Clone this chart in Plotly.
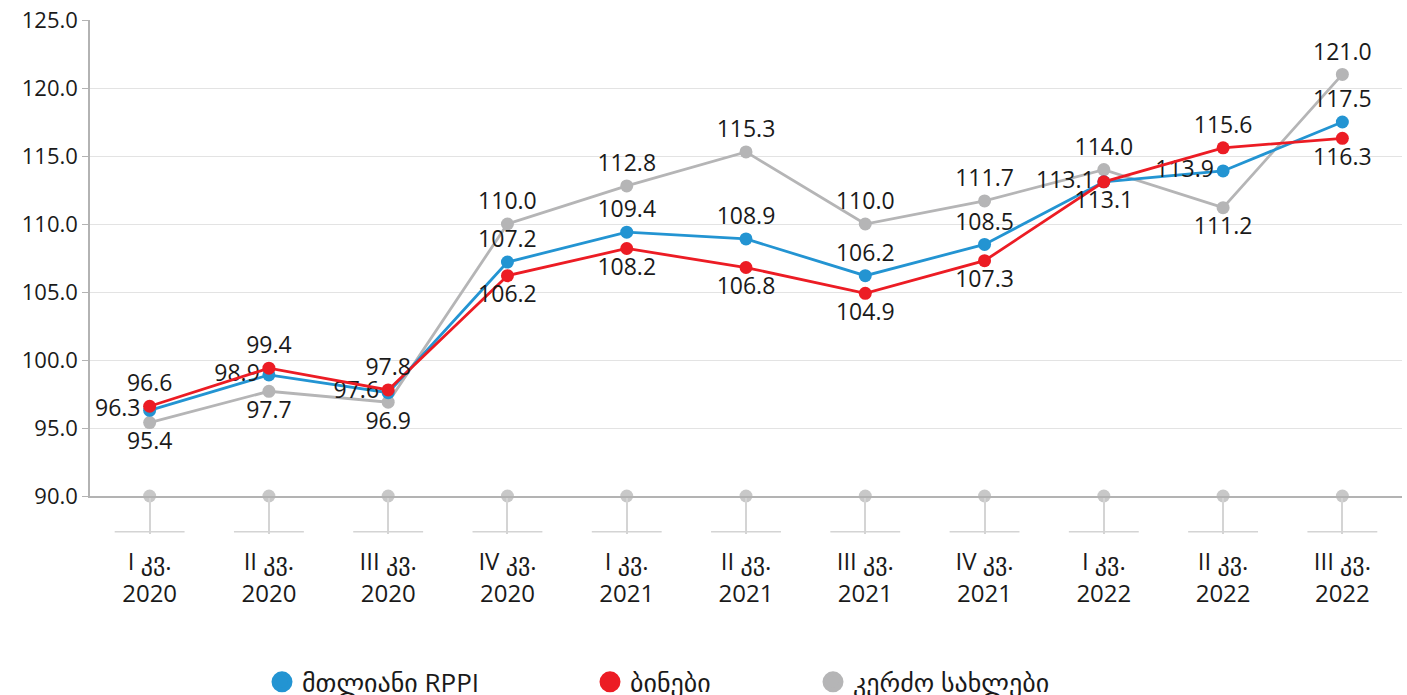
import plotly.graph_objects as go

categories = ["I კვ.<br>2020", "II კვ.<br>2020", "III კვ.<br>2020", "IV კვ.<br>2020",
              "I კვ.<br>2021", "II კვ.<br>2021", "III კვ.<br>2021", "IV კვ.<br>2021",
              "I კვ.<br>2022", "II კვ.<br>2022", "III კვ.<br>2022"]
total_rppi = [96.3, 98.9, 97.6, 107.2, 109.4, 108.9, 106.2, 108.5, 113.1, 113.9, 117.5]
flats = [96.6, 99.4, 97.8, 106.2, 108.2, 106.8, 104.9, 107.3, 113.1, 115.6, 116.3]
houses = [95.4, 97.7, 96.9, 110.0, 112.8, 115.3, 110.0, 111.7, 114.0, 111.2, 121.0]
names = ["მთლიანი RPPI", "ბინები", "კერძო სახლები"]

pos_total = ["middle left", "middle left", "middle left", "top center", "top center", "top center",
             "top center", "top center", "middle left", "middle left", "top center"]
pos_flats = ["top center", "top center", "top center", "bottom center", "bottom center", "bottom center",
             "bottom center", "bottom center", "bottom center", "top center", "bottom center"]
pos_houses = ["bottom center", "bottom center", "bottom center", "top center", "top center", "top center",
              "top center", "top center", "top center", "bottom center", "top center"]

BLUE = "#2394d2"
RED = "#ec1c24"
GRAY = "#b5b5b6"
FONT = "Open Sans, DejaVu Sans, sans-serif"
YMIN, YMAX = 90, 125

# layout designed in target-picture pixels, with a vertical factor for the page
W, H_TARGET = 1407, 695
VS = 710 / 695
H = round(H_TARGET * VS)
TOP, BOTTOM_AXIS = 20 * VS, 486 * VS
PLOT_H = BOTTOM_AXIS - TOP
PLOT_W = 1312
TICKLEN = 35 * VS

fig = go.Figure()

# decorative dots on the x axis
fig.add_trace(go.Scatter(x=categories, y=[YMIN] * len(categories), mode="markers",
                         marker=dict(color="#c8c8c8", size=13), cliponaxis=False,
                         showlegend=False, hoverinfo="skip"))

series = [(houses, names[2], GRAY, pos_houses),
          (total_rppi, names[0], BLUE, pos_total),
          (flats, names[1], RED, pos_flats)]
for vals, name, color, pos in series:
    fig.add_trace(go.Scatter(
        x=categories, y=vals, name=name, mode="lines+markers+text",
        line=dict(color=color, width=2.8),
        marker=dict(color=color, size=13),
        text=[f"{v:.1f}" for v in vals], textposition=pos,
        textfont=dict(size=23, color="#1a1a1a", family=FONT),
        cliponaxis=False, showlegend=False))

# legend entries, each in its own legend box so they can be spaced like the original
legend_px = [262, 590, 813]  # left edge of each legend box, in pixels
legend_ids = ["legend", "legend2", "legend3"]
for name, color, lid in zip(names, [BLUE, RED, GRAY], legend_ids):
    fig.add_trace(go.Scatter(x=[None], y=[None], mode="markers", name=name, legend=lid,
                             marker=dict(color=color, size=16, line=dict(color=color, width=5)),
                             showlegend=True))

# short horizontal segments beneath the tick lines
shapes = []
for i in range(len(categories)):
    shapes.append(dict(type="line", xref="x", yref="paper", x0=i - 0.293, x1=i + 0.293,
                       y0=-TICKLEN / PLOT_H, y1=-TICKLEN / PLOT_H,
                       line=dict(color="#d4d4d4", width=1.5)))

legend_common = dict(orientation="h", xanchor="left", y=-((668 - 486) * VS) / PLOT_H,
                     yanchor="middle",
                     font=dict(size=26, family=FONT, color="#1a1a1a"), itemsizing="trace",
                     bgcolor="rgba(0,0,0,0)")
layout_legends = {}
for lid, px in zip(legend_ids, legend_px):
    layout_legends[lid] = dict(legend_common, x=(px - 90) / PLOT_W)

fig.update_layout(
    width=W, height=H,
    margin=dict(l=90, r=5, t=TOP, b=H - BOTTOM_AXIS),
    paper_bgcolor="white", plot_bgcolor="white",
    font=dict(family=FONT, size=22, color="#1a1a1a"),
    shapes=shapes,
    showlegend=True,
    xaxis=dict(range=[-0.5, len(categories) - 0.5], showgrid=False, showline=True,
               linecolor="#b3b3b3", linewidth=1.5, ticks="outside", ticklen=TICKLEN,
               tickcolor="#d4d4d4", tickwidth=1.5, ticklabelstandoff=8,
               tickfont=dict(size=24), zeroline=False, automargin=False),
    yaxis=dict(range=[YMIN, YMAX], dtick=5, tickformat=".1f", showgrid=True,
               gridcolor="#e3e3e3", gridwidth=1, showline=True, linecolor="#b3b3b3",
               linewidth=1.5, ticks="outside", ticklen=6, tickcolor="#b3b3b3",
               tickfont=dict(size=22), zeroline=False, automargin=False),
    **layout_legends,
)

post = ("document.documentElement.style.margin='0';document.body.style.margin='0';"
        "document.documentElement.style.overflow='hidden';document.body.style.overflow='hidden';")
fig.write_html("out.html", config={"displayModeBar": False}, post_script=post)
